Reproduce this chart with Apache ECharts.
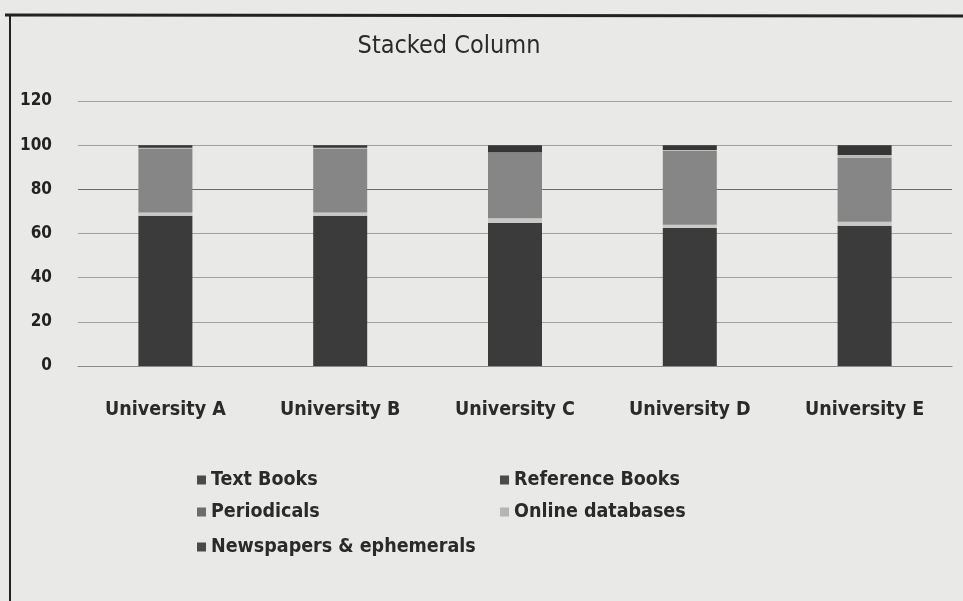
<!DOCTYPE html>
<html><head><meta charset="utf-8">
<script src="https://cdn.jsdelivr.net/npm/echarts@6/dist/echarts.min.js"></script>
<style>html,body{margin:0;padding:0;background:#e9e9e7}#c{width:963px;height:601px}</style>
</head><body><div id="c"></div>
<script>
const categories = ['University A','University B','University C','University D','University E'];
const yTicks = [0,20,40,60,80,100,120];
const textBooks = [68, 68, 64.7, 62.5, 63.5];
const referenceBooks = [1.5, 1.5, 2.2, 1.5, 1.8];
const periodicals = [29, 29, 29.5, 33.5, 29];
const onlineDatabases = [0.3, 0.3, 0.3, 0.3, 1.2];
const newspapers = [1.2, 1.2, 3.3, 2.2, 4.5];
const seriesNames = ['Text Books','Reference Books','Periodicals','Online databases','Newspapers & ephemerals'];
const seriesData = [textBooks, referenceBooks, periodicals, onlineDatabases, newspapers];
const colors = ['#3b3b3b','#c9c9c7','#868686','#b9b9b7','#363636'];
const legendColors = ['#4a4a4a','#4a4a4a','#6c6c6c','#b5b5b3','#4a4a4a'];
const FONT = '"Liberation Sans Narrow","DejaVu Sans Condensed",sans-serif';

const legendPos = [[192,465],[495,465],[192,497],[495,497],[192,532]];
const chart = echarts.init(document.getElementById('c'));
chart.setOption({
  backgroundColor: '#e9e9e7',
  animation: false,
  title: {text: 'Stacked Column', left: 444, top: 29, textAlign: 'center',
    textStyle: {fontFamily: FONT, fontSize: 25, fontWeight: 'normal', color: '#2a2a2a'}},
  grid: {left: 78, right: 11, top: 101, bottom: 235},
  legend: seriesNames.map((n,i)=>({
    data: [{name: n, itemStyle: {color: legendColors[i]}}],
    left: legendPos[i][0], top: legendPos[i][1], itemWidth: 9, itemHeight: 9, itemGap: 6,
    icon: 'rect',
    textStyle: {fontFamily: FONT, fontSize: 19.5, color: '#2a2a2a', fontWeight: 'bold'}
  })),
  xAxis: {type: 'category', data: categories,
    axisLine: {lineStyle: {color: '#8a8a8a'}}, axisTick: {show: false},
    axisLabel: {margin: 34, fontFamily: FONT, fontSize: 19.5, color: '#2a2a2a', fontWeight: 'bold'}},
  yAxis: {type: 'value', min: 0, max: 120, interval: 20,
    axisLine: {show: false}, axisTick: {show: false},
    splitLine: {lineStyle: {color: ['#a0a0a0','#a0a0a0','#a0a0a0','#a0a0a0','#6a6a6a','#a0a0a0','#a0a0a0'], width: 1}},
    axisLabel: {margin: 26, fontFamily: FONT, fontSize: 17, color: '#222', fontWeight: 'bold',
      formatter: v => yTicks.includes(v) ? String(v) : ''}},
  series: seriesData.map((d,i)=>({
    name: seriesNames[i], type: 'bar', stack: 'all', barWidth: 54, data: d,
    itemStyle: {color: colors[i]}
  })),
  graphic: [
    {type: 'line', shape: {x1: 5, y1: 15, x2: 963, y2: 16}, style: {stroke: '#222', lineWidth: 3}},
    {type: 'line', shape: {x1: 10, y1: 15, x2: 10, y2: 601}, style: {stroke: '#222', lineWidth: 2}}
  ]
});
</script></body></html>
